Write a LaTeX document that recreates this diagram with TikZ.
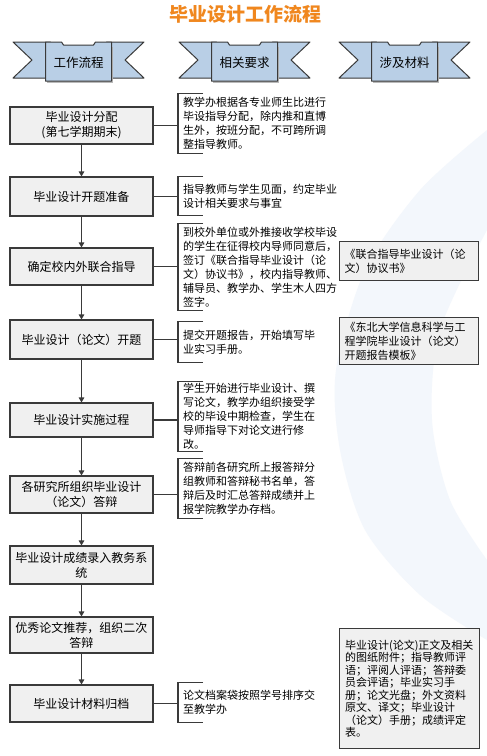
\documentclass[tikz,border=0pt]{standalone}
\usepackage{fontspec}
\newfontfamily\cjk{Noto Sans CJK SC}
\usetikzlibrary{arrows.meta}
\definecolor{ttl}{HTML}{F0871E}
\definecolor{rib}{HTML}{B9CFE6}
\definecolor{edge}{HTML}{3A3A3A}
\definecolor{boxfill}{HTML}{F0F0F0}
\definecolor{swoosh}{HTML}{F3F7FC}
\begin{document}
\begin{tikzpicture}[x=1pt,y=-1pt,
  flow/.style={draw=edge, line width=1.1pt, fill=boxfill, minimum width=143pt, align=center, inner sep=2pt, font=\cjk\fontsize{12}{15}\selectfont},
  note/.style={anchor=west, align=left, inner xsep=5pt, inner ysep=0pt, font=\cjk\fontsize{11}{14}\selectfont},
  refbox/.style={draw=edge, line width=1.1pt, fill=boxfill, anchor=north west, minimum width=139pt, align=left, text width=129pt, inner xsep=5pt, inner ysep=0pt, font=\cjk\fontsize{11}{14}\selectfont},
  link/.style={draw=edge, line width=1.1pt},
  arr/.style={link, -{Triangle[length=5pt,width=5.5pt]}},
  ribbon/.style={draw=edge, line width=1pt, fill=rib, line join=round},
  ribtext/.style={font=\cjk\fontsize{12.5}{14}\selectfont},
]
\fill[white] (0,0) rectangle (487,756);
\useasboundingbox (0,0) rectangle (487,756);
% background swoosh
\fill[swoosh] plot[smooth] coordinates {(487,130) (420,190) (365,270) (336,370) (340,450) (365,530) (420,595) (487,640)} -- plot[smooth] coordinates {(487,560) (450,500) (432,420) (440,330) (487,230)} -- cycle;

% title
\node[font=\cjk\bfseries\fontsize{19}{19}\selectfont, text=ttl] (title) at (245,14) {毕业设计工作流程};

% ribbons
\foreach \cx/\t/\n in {78.5/工作流程/r1, 244.5/相关要求/r2, 404.5/涉及材料/r3}{
  \begin{scope}[shift={(\cx,0)}]
    \draw[ribbon] (-65.5,42) -- (-28,42) -- (-28,78) -- (-65.5,78) -- (-46.5,60) -- cycle;
    \draw[ribbon] (65.5,42) -- (28,42) -- (28,78) -- (65.5,78) -- (46.5,60) -- cycle;
    \fill[gray!55] (-31.5,46.5) rectangle (34.5,82.5);
    \draw[ribbon] (-33,81) -- (-33,42) -- (-17,42) -- (-15,45) -- (15,45) -- (17,42) -- (33,42) -- (33,81) -- cycle;
    \node[ribtext] (\n) at (0,63) {\t};
  \end{scope}
}

% flow boxes
\node[flow, minimum height=37pt] (f1) at (81.5,125.5) {毕业设计分配\\(第七学期期末)};
\node[flow, minimum height=39pt] (f2) at (81.5,196.5) {毕业设计开题准备};
\node[flow, minimum height=37pt] (f3) at (81.5,266.5) {确定校内外联合指导};
\node[flow, minimum height=39pt] (f4) at (81.5,339.5) {毕业设计（论文）开题};
\node[flow, minimum height=34pt] (f5) at (81.5,420) {毕业设计实施过程};
\node[flow, minimum height=37pt] (f6) at (81.5,494.5) {各研究所组织毕业设计\\（论文）答辩};
\node[flow, minimum height=38pt] (f7) at (81.5,565) {毕业设计成绩录入教务系\\统};
\node[flow, minimum height=36pt] (f8) at (81.5,635) {优秀论文推荐，组织二次\\答辩};
\node[flow, minimum height=37pt] (f9) at (81.5,703.5) {毕业设计材料归档};

\foreach \a/\b in {f1/f2, f2/f3, f3/f4, f4/f5, f5/f6, f6/f7, f7/f8, f8/f9}{
  \draw[arr] (\a) -- (\b);
}

% notes with brackets
\node[note, minimum height=59pt] (b1) at (178,123.5) {教学办根据各专业师生比进行\\毕设指导分配，除内推和直博\\生外，按班分配，不可跨所调\\整指导教师。};
\node[note, minimum height=38pt] (b2) at (178,196) {指导教师与学生见面，约定毕业\\设计相关要求与事宜};
\node[note, minimum height=86pt] (b3) at (178,267) {到校外单位或外推接收学校毕设\\的学生在征得校内导师同意后，\\签订《联合指导毕业设计（论\\文）协议书》，校内指导教师、\\辅导员、教学办、学生木人四方\\签字。};
\node[note, minimum height=40pt] (b4) at (178,342) {提交开题报告，开始填写毕\\业实习手册。};
\node[note, minimum height=69pt] (b5) at (178,416.5) {学生开始进行毕业设计、撰\\写论文，教学办组织接受学\\校的毕设中期检查，学生在\\导师指导下对论文进行修\\改。};
\node[note, minimum height=59pt] (b6) at (178,488.5) {答辩前各研究所上报答辩分\\组教师和答辩秘书名单，答\\辩后及时汇总答辩成绩并上\\报学院教学办存档。};
\node[note, minimum height=39pt] (b9) at (178,702.5) {论文档案袋按照学号排序交\\至教学办};

\foreach \f/\b in {f1/b1, f2/b2, f3/b3, f4/b4, f5/b5, f6/b6, f9/b9}{
  \draw[link] (\b.north west) ++(25,0) -- (\b.north west) -- (\b.south west) -- ++(25,0);
  \draw[link] (\f.east) -- (\f.east -| \b.west);
}

% reference material boxes
\node[refbox, minimum height=39pt] (m3) at (339,241) {《联合指导毕业设计（论\\文）协议书》};
\node[refbox, minimum height=47pt] (m4) at (339,317) {《东北大学信息科学与工\\程学院毕业设计（论文）\\开题报告模板》};
\node[refbox, minimum height=120pt, minimum width=140pt, font=\cjk\fontsize{11}{12.5}\selectfont] (m9) at (339,628) {毕业设计(论文)正文及相关\\的图纸附件；指导教师评\\语；评阅人评语；答辩委\\员会评语；毕业实习手\\册；论文光盘；外文资料\\原文、译文；毕业设计\\（论文）手册；成绩评定\\表。};
\end{tikzpicture}
\end{document}
